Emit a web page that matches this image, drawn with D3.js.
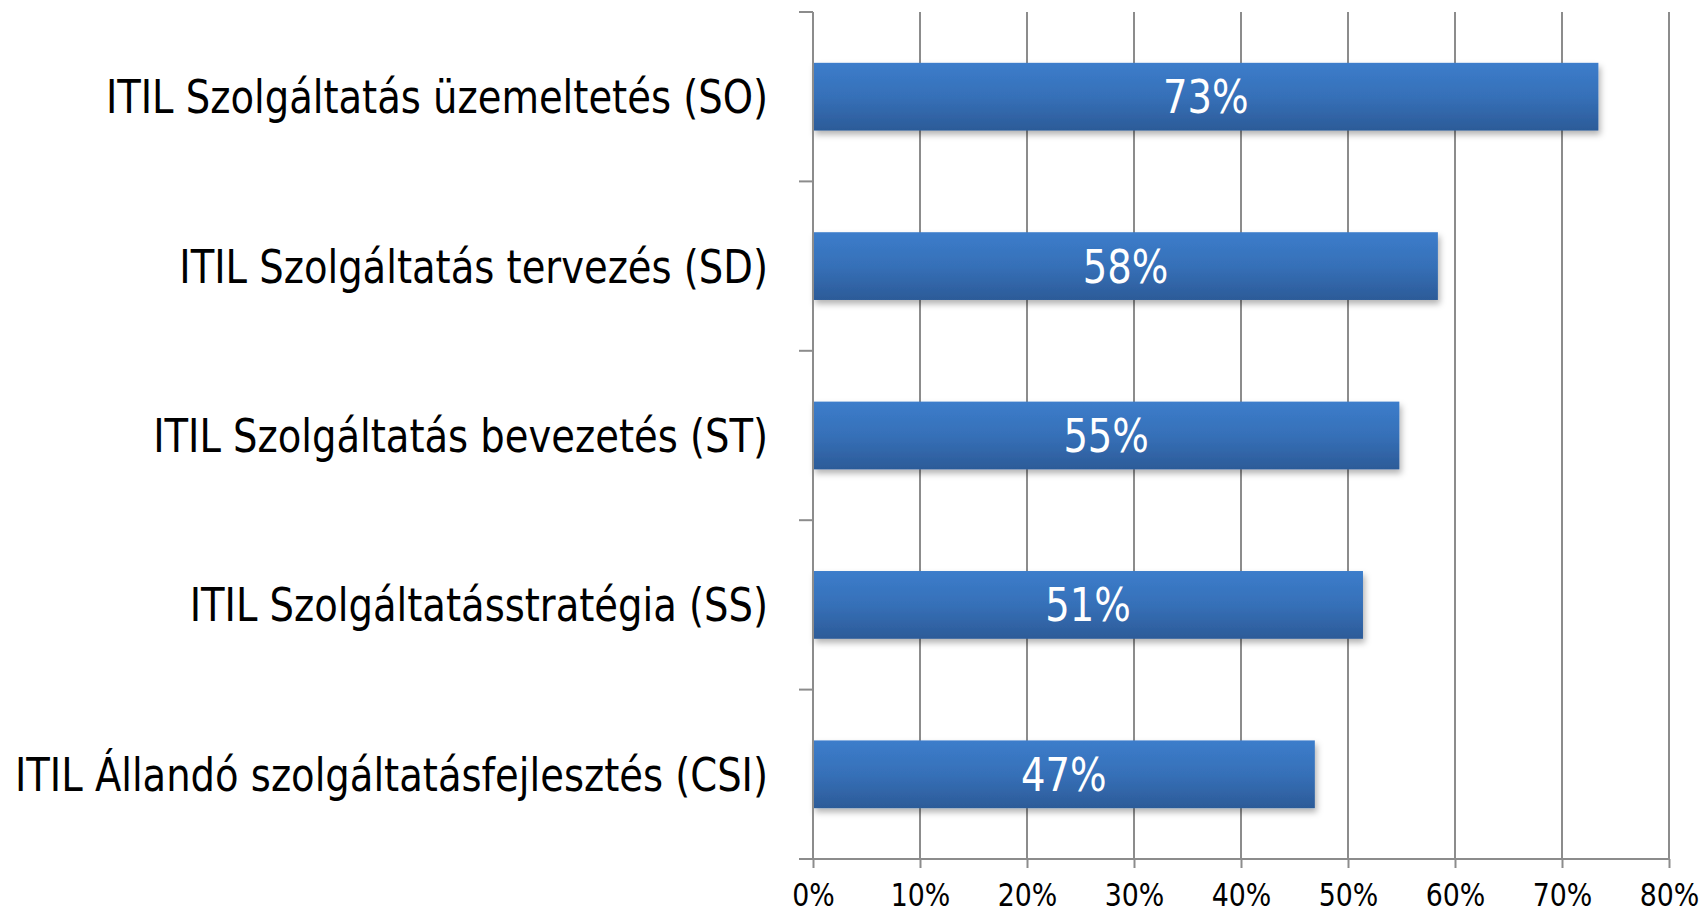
<!DOCTYPE html>
<html><head><meta charset="utf-8">
<script src="https://cdn.jsdelivr.net/npm/d3@7"></script>
<style>
html,body{margin:0;padding:0;background:#fff;}
svg{display:block;}
text{font-family:"DejaVu Sans Condensed","DejaVu Sans","Liberation Sans",sans-serif;}
</style></head>
<body>
<svg id="chart" width="1706" height="914"></svg>
<script>
const categories = [
  "ITIL Szolgáltatás üzemeltetés (SO)",
  "ITIL Szolgáltatás tervezés (SD)",
  "ITIL Szolgáltatás bevezetés (ST)",
  "ITIL Szolgáltatásstratégia (SS)",
  "ITIL Állandó szolgáltatásfejlesztés (CSI)"
];
const values = [73.4, 58.4, 54.8, 51.4, 46.9];
const valueLabels = ["73%", "58%", "55%", "51%", "47%"];
const xTicks = [0, 10, 20, 30, 40, 50, 60, 70, 80];

(function () {
const svg = d3.select("#chart");
const mLeft = 813, mRight = 1669, mTop = 12, mBottom = 859;
const longestLabelWidth = 753; // target width of the widest category label
const gridColor = "#8c8c8c";

const x = d3.scaleLinear().domain([0, 80]).range([mLeft, mRight]);
const y = d3.scaleBand().domain(categories).range([mTop, mBottom]).paddingInner(0.6).paddingOuter(0.3);

const defs = svg.append("defs");
const grad = defs.append("linearGradient").attr("id", "barGrad").attr("x1", 0).attr("y1", 0).attr("x2", 0).attr("y2", 1);
grad.append("stop").attr("offset", "0%").attr("stop-color", "#3c7dcb");
grad.append("stop").attr("offset", "50%").attr("stop-color", "#3670b8");
grad.append("stop").attr("offset", "100%").attr("stop-color", "#2c5b98");
const f = defs.append("filter").attr("id", "shadow").attr("x", "-5%").attr("y", "-20%").attr("width", "115%").attr("height", "160%");
f.append("feDropShadow").attr("dx", 2).attr("dy", 4).attr("stdDeviation", 3).attr("flood-color", "#000").attr("flood-opacity", 0.3);

// gridlines
svg.append("g").selectAll("line").data(xTicks.slice(1)).join("line")
  .attr("x1", d => x(d)).attr("x2", d => x(d))
  .attr("y1", mTop).attr("y2", mBottom)
  .attr("stroke", gridColor).attr("stroke-width", 2);

// bars
svg.append("g").selectAll("rect").data(values).join("rect")
  .attr("x", x(0))
  .attr("y", (d, i) => y(categories[i]))
  .attr("width", d => x(d) - x(0))
  .attr("height", y.bandwidth())
  .attr("fill", "url(#barGrad)")
  .attr("filter", "url(#shadow)");

// y axis (category)
const yEdges = d3.range(categories.length + 1).map(i => mTop + i * (mBottom - mTop) / categories.length);
const ya = svg.append("g");
ya.append("line").attr("x1", mLeft).attr("x2", mLeft).attr("y1", mTop).attr("y2", mBottom)
  .attr("stroke", gridColor).attr("stroke-width", 2);
ya.selectAll("line.tick").data(yEdges).join("line").attr("class", "tick")
  .attr("x1", mLeft - 14).attr("x2", mLeft).attr("y1", d => d).attr("y2", d => d)
  .attr("stroke", gridColor).attr("stroke-width", 2);
const catText = ya.selectAll("text").data(categories).join("text")
  .attr("x", mLeft - 45)
  .attr("y", d => y(d) + y.bandwidth() / 2)
  .attr("dy", "0.36em")
  .attr("text-anchor", "end")
  .attr("fill", "#000")
  .attr("font-size", 46)
  .text(d => d);

// condense factor so the widest label matches the reference
let maxW = 0;
catText.each(function () { maxW = Math.max(maxW, this.getComputedTextLength()); });
const k = Math.min(1, longestLabelWidth / maxW);
function condense(sel) {
  sel.each(function () {
    const w = this.getComputedTextLength();
    d3.select(this).attr("textLength", w * k).attr("lengthAdjust", "spacingAndGlyphs");
  });
}
condense(catText);

// bar labels
const valText = svg.append("g").selectAll("text").data(values).join("text")
  .attr("x", d => (x(0) + x(d)) / 2)
  .attr("y", (d, i) => y(categories[i]) + y.bandwidth() / 2)
  .attr("dy", "0.36em")
  .attr("text-anchor", "middle")
  .attr("fill", "#fff")
  .attr("font-size", 46)
  .text((d, i) => valueLabels[i]);
condense(valText);

// x axis
const xa = svg.append("g").attr("transform", `translate(0,${mBottom})`)
  .call(d3.axisBottom(x).tickValues(xTicks).tickFormat(d => d + "%").tickSize(9).tickPadding(15));
xa.select(".domain").attr("stroke", gridColor).attr("stroke-width", 2).attr("d", `M${mLeft - 14},0H${mRight}`);
xa.selectAll(".tick line").attr("stroke", gridColor).attr("stroke-width", 2);
const tickText = xa.selectAll(".tick text").attr("font-size", 32).attr("fill", "#000")
  .style("font-family", '"DejaVu Sans Condensed","DejaVu Sans",sans-serif');
condense(tickText);
})();
</script>
</body></html>
